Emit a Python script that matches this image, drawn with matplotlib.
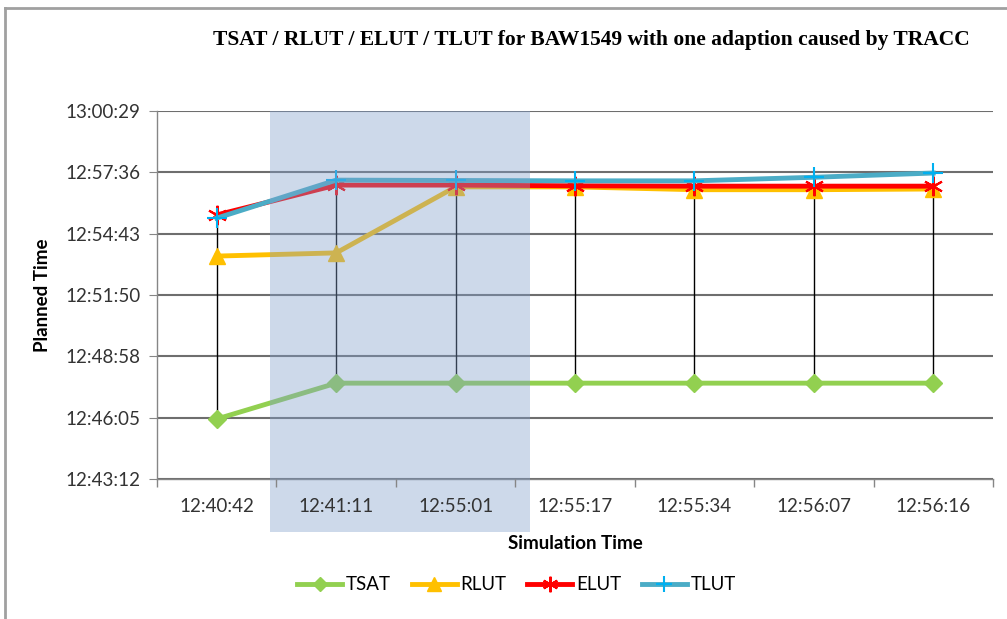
import matplotlib.pyplot as plt
import matplotlib.transforms as mtransforms
from matplotlib.patches import Rectangle
from matplotlib.ticker import FuncFormatter, FixedLocator
from matplotlib.lines import Line2D

# Simulation times (categories) and planned times
sim_times = ["12:40:42", "12:41:11", "12:55:01", "12:55:17", "12:55:34", "12:56:07", "12:56:16"]
tsat = ["12:46:01", "12:47:42", "12:47:42", "12:47:42", "12:47:42", "12:47:42", "12:47:42"]
rlut = ["12:53:40", "12:53:49", "12:56:55", "12:56:55", "12:56:47", "12:56:47", "12:56:49"]
elut = ["12:55:36", "12:57:00", "12:57:00", "12:56:58", "12:56:57", "12:56:57", "12:56:57"]
tlut = ["12:55:27", "12:57:14", "12:57:13", "12:57:12", "12:57:12", "12:57:22", "12:57:34"]


def to_sec(s):
    h, m, sec = s.split(":")
    return int(h) * 3600 + int(m) * 60 + int(sec)


def fmt_time(v, pos=None):
    v = int(round(v))
    return "%02d:%02d:%02d" % (v // 3600, (v % 3600) // 60, v % 60)


series = {
    "TSAT": [to_sec(s) for s in tsat],
    "RLUT": [to_sec(s) for s in rlut],
    "ELUT": [to_sec(s) for s in elut],
    "TLUT": [to_sec(s) for s in tlut],
}
x = list(range(len(sim_times)))

plt.rcParams["font.family"] = ["Lato", "DejaVu Sans"]

fig = plt.figure(figsize=(10.07, 6.19), dpi=100)
ax = fig.add_axes([0.156, 0.2262, 0.830, 0.5945])

# y axis: Excel-like units of 0.002 day starting at 0.53 day
day = 86400.0
ymin, ystep = 0.53 * day, 0.002 * day
yticks = [ymin + k * ystep for k in range(7)]
ax.set_ylim(yticks[0], yticks[-1])
ax.yaxis.set_major_locator(FixedLocator(yticks))
ax.yaxis.set_major_formatter(FuncFormatter(fmt_time))
ax.grid(axis="y", color="#6e6e6e", lw=1.5, zorder=0)

ax.set_xlim(-0.5, len(x) - 0.5)
ax.set_xticks(x)
ax.set_xticklabels(sim_times)
ax.set_xticks([i - 0.5 for i in range(len(x) + 1)], minor=True)
ax.tick_params(axis="x", which="major", length=0, pad=14, labelsize=13.5, labelcolor="#333333")
ax.tick_params(axis="x", which="minor", length=6, color="#868686", width=1)
ax.tick_params(axis="y", length=6, color="#868686", labelsize=13.5, labelcolor="#333333", pad=6)
ax.xaxis.set_zorder(7)

for side in ["top", "right"]:
    ax.spines[side].set_visible(False)
for side in ["left", "bottom"]:
    ax.spines[side].set_color("#868686")
    ax.spines[side].set_linewidth(1)

# high-low lines
hi = [max(v) for v in zip(*series.values())]
lo = [min(v) for v in zip(*series.values())]
ax.vlines(x, lo, hi, color="black", lw=1, zorder=2)

ax.plot(x, series["TSAT"], color="#92d050", lw=3.5, marker="D", ms=9,
        mfc="#92d050", mec="#92d050", zorder=3, label="TSAT")
ax.plot(x, series["RLUT"], color="#ffc000", lw=3.5, marker="^", ms=12,
        mfc="#ffc000", mec="#ffc000", zorder=3, label="RLUT")
ax.plot(x, series["ELUT"], color="#ff0000", lw=3.5, marker=(6, 2, 0), ms=14,
        mfc="#ff0000", mec="#ff0000", mew=1.5, zorder=4, label="ELUT")
ax.plot(x, series["TLUT"], color="#4bacc6", lw=3.5, marker="+", ms=15,
        mec="#00b0f0", mew=1.5, zorder=5, label="TLUT")

# shaded adaption period
trans = mtransforms.blended_transform_factory(ax.transData, ax.transAxes)
ax.add_patch(Rectangle((0.446, -0.144), 2.62 - 0.446, 1.144, transform=trans,
                       facecolor="#82a0cb", alpha=0.4, edgecolor="none",
                       clip_on=False, zorder=6))

ax.set_ylabel("Planned Time", fontsize=13.5, fontweight="bold", labelpad=10)
ax.set_xlabel("Simulation Time", fontsize=13.5, fontweight="bold", labelpad=14)

fig.text(0.587, 0.935, "TSAT / RLUT / ELUT / TLUT for BAW1549 with one adaption caused by TRACC",
         ha="center", va="center", fontsize=15.5, fontweight="bold",
         family="Liberation Serif")

handles, labels = ax.get_legend_handles_labels()
leg = fig.legend(handles, labels, loc="center", bbox_to_anchor=(0.513, 0.055), ncol=4,
                 frameon=False, fontsize=13.5, handlelength=2.4, columnspacing=1.1,
                 handletextpad=0.2, markerscale=0.8)

# chart area border (left and top edges visible in the reference)
fig.add_artist(Line2D([0.005, 0.005], [0, 0.987], color="#a0a0a0", lw=2))
fig.add_artist(Line2D([0.005, 1.0], [0.987, 0.987], color="#a0a0a0", lw=2))

fig.savefig("out.png", dpi=100)
